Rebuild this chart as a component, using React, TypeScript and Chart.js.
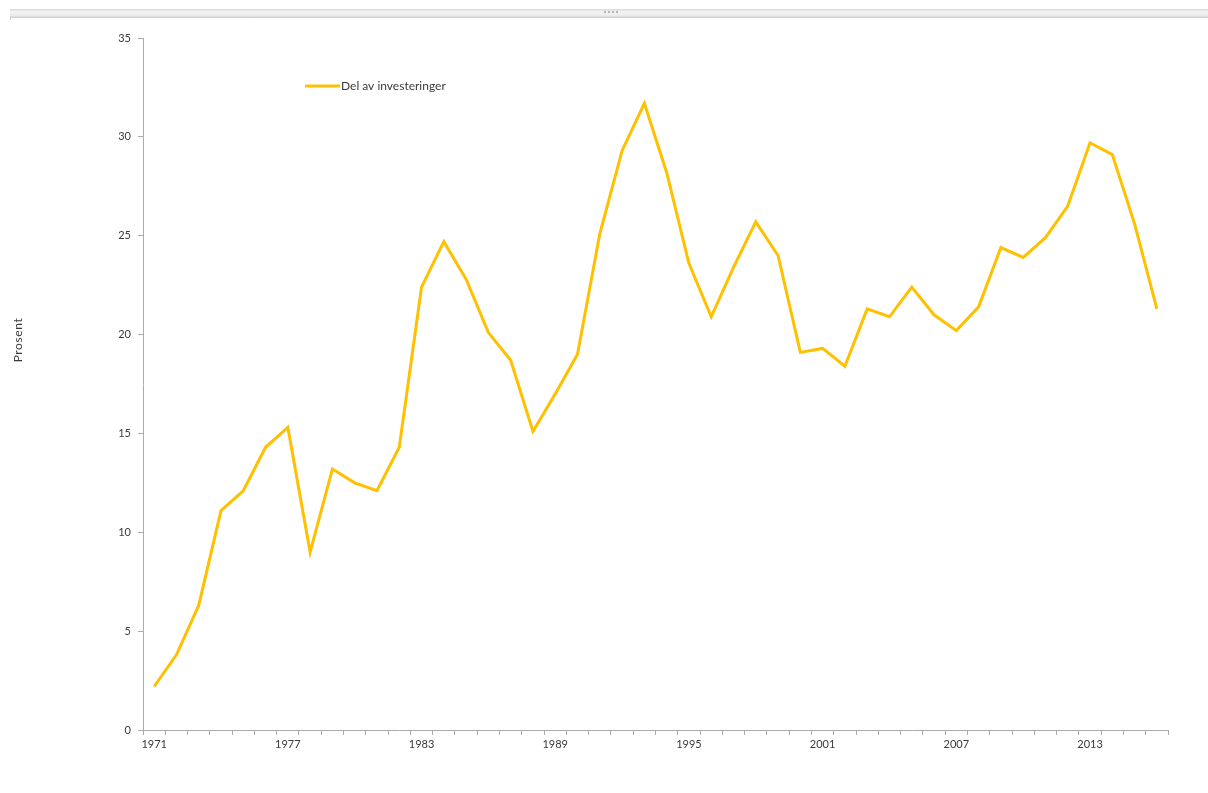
import React, { useEffect, useRef } from "react";
import { Chart, registerables } from "chart.js";

Chart.register(...registerables);

// Share of investments, per cent, by year
const years: string[] = [
  "1971", "1972", "1973", "1974", "1975", "1976", "1977", "1978", "1979", "1980",
  "1981", "1982", "1983", "1984", "1985", "1986", "1987", "1988", "1989", "1990",
  "1991", "1992", "1993", "1994", "1995", "1996", "1997", "1998", "1999", "2000",
  "2001", "2002", "2003", "2004", "2005", "2006", "2007", "2008", "2009", "2010",
  "2011", "2012", "2013", "2014", "2015", "2016",
];

const investmentShare: number[] = [
  2.2, 3.8, 6.3, 11.1, 12.1, 14.3, 15.3, 9.0, 13.2, 12.5,
  12.1, 14.3, 22.4, 24.7, 22.8, 20.1, 18.7, 15.1, 17.0, 19.0,
  25.1, 29.3, 31.7, 28.2, 23.6, 20.9, 23.4, 25.7, 24.0, 19.1,
  19.3, 18.4, 21.3, 20.9, 22.4, 21.0, 20.2, 21.4, 24.4, 23.9,
  24.9, 26.5, 29.7, 29.1, 25.6, 21.3,
];

const seriesLabel = "Del av investeringer";
const yAxisTitle = "Prosent";
const labelEvery = 6;

const LINE_COLOR = "#FFC000";
const AXIS_COLOR = "#ababab";
const TEXT_COLOR = "#3a3a3a";
const FONT_FAMILY = "Lato, 'Open Sans', sans-serif";

// Legend drawn inside the plot area, plus the rotated y-axis title
const annotations = {
  id: "annotations",
  afterDraw(chart: Chart) {
    const ctx = chart.ctx as any;
    const ds = chart.data.datasets[0];
    const x0 = 305;
    const y0 = 86;
    ctx.save();
    ctx.strokeStyle = ds.borderColor as string;
    ctx.lineWidth = 3;
    ctx.beginPath();
    ctx.moveTo(x0, y0);
    ctx.lineTo(x0 + 35, y0);
    ctx.stroke();
    ctx.fillStyle = TEXT_COLOR;
    ctx.font = `12px ${FONT_FAMILY}`;
    ctx.textBaseline = "middle";
    ctx.textAlign = "left";
    ctx.fillText(ds.label as string, x0 + 36, y0);
    ctx.restore();

    ctx.save();
    ctx.translate(18, 340);
    ctx.rotate(-Math.PI / 2);
    ctx.fillStyle = TEXT_COLOR;
    ctx.font = `12px ${FONT_FAMILY}`;
    ctx.letterSpacing = "0.6px";
    ctx.textBaseline = "middle";
    ctx.textAlign = "center";
    ctx.fillText(yAxisTitle, 0, 0);
    ctx.restore();
  },
};

function LineChart() {
  const canvasRef = useRef<HTMLCanvasElement | null>(null);

  useEffect(() => {
    if (!canvasRef.current) return;
    const chart = new Chart(canvasRef.current, {
      type: "line",
      data: {
        labels: years,
        datasets: [
          {
            label: seriesLabel,
            data: investmentShare,
            borderColor: LINE_COLOR,
            backgroundColor: LINE_COLOR,
            borderWidth: 3,
            pointRadius: 0,
            pointHoverRadius: 0,
            tension: 0,
            fill: false,
          },
        ],
      },
      options: {
        responsive: false,
        animation: false,
        events: [],
        layout: { padding: { top: 38, right: 40, bottom: 23, left: 0 } },
        plugins: {
          legend: { display: false },
          tooltip: { enabled: false },
        },
        scales: {
          x: {
            type: "category",
            offset: true,
            afterFit(scale: any) {
              scale.height = 40;
            },
            grid: {
              offset: true,
              drawOnChartArea: false,
              drawTicks: true,
              tickLength: 5,
              color: AXIS_COLOR,
            },
            border: { display: true, color: AXIS_COLOR, width: 1 },
            ticks: {
              autoSkip: false,
              maxRotation: 0,
              minRotation: 0,
              padding: 3,
              color: TEXT_COLOR,
              font: { family: FONT_FAMILY, size: 11 },
              callback: (_v: any, i: number) => (i % labelEvery === 0 ? years[i] : ""),
            },
          },
          y: {
            min: 0,
            max: 35,
            afterFit(scale: any) {
              scale.width = 143;
            },
            grid: {
              drawOnChartArea: false,
              drawTicks: true,
              tickLength: 5,
              color: AXIS_COLOR,
            },
            border: { display: true, color: AXIS_COLOR, width: 1 },
            ticks: {
              stepSize: 5,
              padding: 7,
              color: TEXT_COLOR,
              font: { family: FONT_FAMILY, size: 11 },
            },
          },
        },
      },
      plugins: [annotations],
    });
    return () => chart.destroy();
  }, []);

  return (
    <canvas
      ref={canvasRef}
      width={1208}
      height={793}
      style={{ position: "absolute", left: 0, top: 0, width: 1208, height: 793 }}
    />
  );
}

export default function App() {
  return (
    <div
      style={{
        position: "fixed",
        left: 0,
        top: 0,
        width: 1208,
        height: 793,
        background: "#ffffff",
        overflow: "hidden",
      }}
    >
      {/* window strip along the top */}
      <div
        style={{
          position: "absolute",
          left: 10,
          top: 9,
          width: 1198,
          height: 9,
          background: "linear-gradient(#d6d6d6, #f3f3f3 30%, #ececec 70%, #cdcdcd)",
        }}
      />
      <div
        style={{
          position: "absolute",
          left: 10,
          top: 17,
          width: 1,
          height: 3,
          background: "#cfcfcf",
        }}
      />
      {/* grip handle */}
      {[0, 1, 2, 3].map((i) => (
        <div
          key={i}
          style={{
            position: "absolute",
            left: 604 + i * 4,
            top: 11,
            width: 2,
            height: 2,
            background: "#b5b5b5",
          }}
        />
      ))}
      <LineChart />
    </div>
  );
}
